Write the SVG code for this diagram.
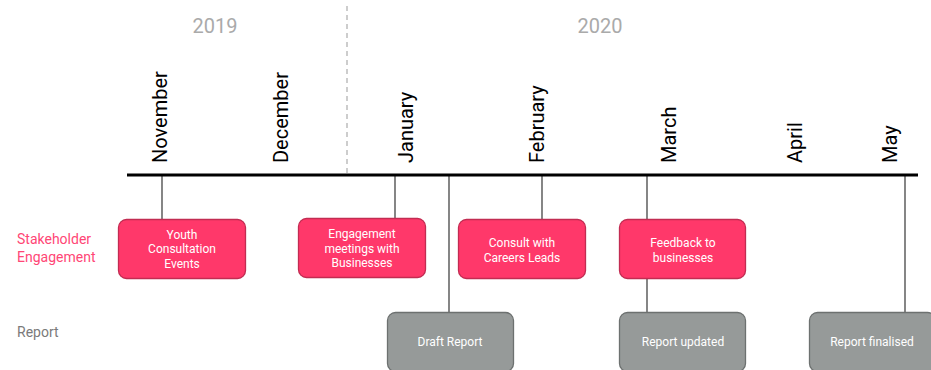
<svg xmlns="http://www.w3.org/2000/svg" width="931" height="370" viewBox="0 0 931 370">
<style>
text{font-family:Roboto,"Liberation Sans",sans-serif}
.yr{font-size:20px;fill:#aaaaaa;text-anchor:middle}
.mo{font-size:20px;fill:#000}
.pk{fill:#ff386a;stroke:#c22c52;stroke-width:1.3}
.gr{fill:#969a99;stroke:#6d7170;stroke-width:1.3}
.bt{font-size:12px;fill:#ffffff;text-anchor:middle}
.cn{stroke:#444;stroke-width:1.3;fill:none}
.ln{font-size:14px}
</style>
<rect width="931" height="370" fill="#ffffff"/>
<g id="years">
<text class="yr" x="215" y="33">2019</text>
<text class="yr" x="600" y="33">2020</text>
<line x1="347" y1="6" x2="347" y2="175" stroke="#bdbdbd" stroke-width="1.5" stroke-dasharray="5,4"/>
</g>
<g id="months">
<text class="mo" transform="translate(167,163) rotate(-90)">November</text>
<text class="mo" transform="translate(288,163) rotate(-90)">December</text>
<text class="mo" transform="translate(413,163) rotate(-90)">January</text>
<text class="mo" transform="translate(544,163) rotate(-90)">February</text>
<text class="mo" transform="translate(676,163) rotate(-90)">March</text>
<text class="mo" transform="translate(802,163) rotate(-90)">April</text>
<text class="mo" transform="translate(897,163) rotate(-90)">May</text>
</g>
<g id="lanes">
<text class="ln" x="17" y="244" fill="#ff4676">Stakeholder</text>
<text class="ln" x="17" y="262" fill="#ff4676">Engagement</text>
<text class="ln" x="17" y="337" fill="#7a7a7a">Report</text>
</g>
<g id="connectors">
<line class="cn" x1="162" y1="175" x2="162" y2="220"/>
<line class="cn" x1="395" y1="175" x2="395" y2="219"/>
<line class="cn" x1="449" y1="175" x2="449" y2="313"/>
<line class="cn" x1="542" y1="175" x2="542" y2="220"/>
<line class="cn" x1="647" y1="175" x2="647" y2="313"/>
<line class="cn" x1="905" y1="175" x2="905" y2="313"/>
</g>
<g id="timeline">
<line x1="127" y1="175" x2="918" y2="175" stroke="#000" stroke-width="3"/>
</g>
<g id="youth">
<rect class="pk" x="118.5" y="219.5" width="127" height="59" rx="8"/>
<text class="bt" x="182" y="238.5">Youth</text>
<text class="bt" x="182" y="253">Consultation</text>
<text class="bt" x="182" y="267.5">Events</text>
</g>
<g id="engagement">
<rect class="pk" x="298.5" y="218.5" width="127" height="59" rx="8"/>
<text class="bt" x="362" y="238">Engagement</text>
<text class="bt" x="362" y="252.5">meetings with</text>
<text class="bt" x="362" y="267">Businesses</text>
</g>
<g id="consult">
<rect class="pk" x="458.5" y="219.5" width="127" height="59" rx="8"/>
<text class="bt" x="522" y="247">Consult with</text>
<text class="bt" x="522" y="261.5">Careers Leads</text>
</g>
<g id="feedback">
<rect class="pk" x="619.5" y="219.5" width="126" height="59" rx="8"/>
<text class="bt" x="683" y="247">Feedback to</text>
<text class="bt" x="683" y="261.5">businesses</text>
</g>
<g id="draft">
<rect class="gr" x="387.5" y="312.5" width="126" height="59" rx="8"/>
<text class="bt" x="450" y="346">Draft Report</text>
</g>
<g id="updated">
<rect class="gr" x="619.5" y="312.5" width="126" height="59" rx="8"/>
<text class="bt" x="683" y="346">Report updated</text>
</g>
<g id="finalised">
<rect class="gr" x="809.5" y="312.5" width="126" height="59" rx="8"/>
<text class="bt" x="872" y="346">Report finalised</text>
</g>
</svg>
